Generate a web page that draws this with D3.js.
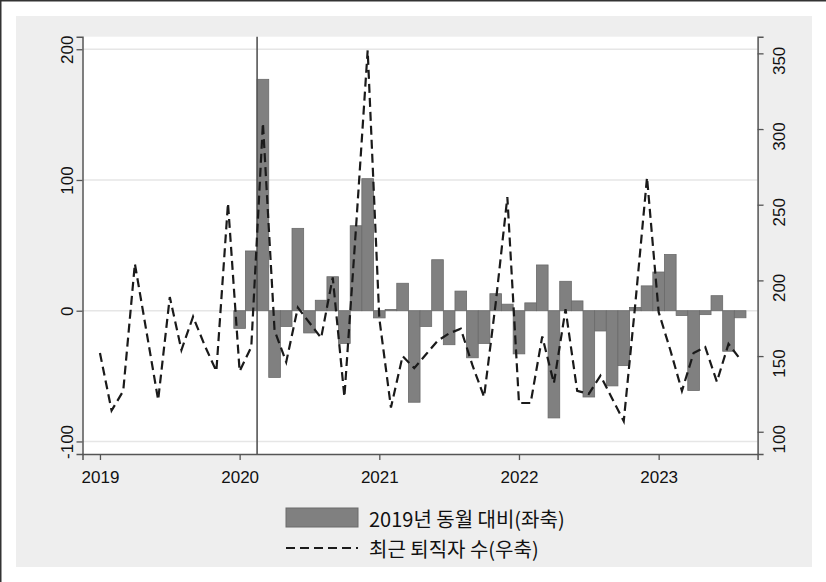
<!DOCTYPE html>
<html>
<head>
<meta charset="utf-8">
<script src="https://cdn.jsdelivr.net/npm/d3@7"></script>
<style>
  html, body { margin: 0; padding: 0; background: #fff; }
  svg { display: block; }
  text { font-family: "Liberation Sans", Arial, sans-serif; fill: #111; }
  .kr { font-family: "Noto Sans CJK KR", "Liberation Sans", sans-serif; }
</style>
</head>
<body>
<div id="chart"></div>
<script>
// month index: 0 = 2019-01
const yearTicks = [0, 12, 24, 36, 48];
const yearLabels = ["2019", "2020", "2021", "2022", "2023"];
const leftTicks = [-100, 0, 100, 200];
const rightTicks = [100, 150, 200, 250, 300, 350];
const shockMonth = 13.5;

// 2019년 동월 대비 (좌축), 2020-01 .. 2023-08
const barStart = 12;
const barValues = [
  -13.5, 45.7, 177, -51, -12, 63, -17, 8, 26, -25, 65, 101,
  -5.5, 1, 21, -70, -12, 39, -26, 15, -36, -25, 13, 5,
  -33, 6, 35, -82, 22.5, 7.5, -66, -15.5, -57.5, -42, 2.5, 19,
  29.6, 43, -3.7, -61, -3, 11.5, -31, -5.4
];

// 최근 퇴직자 수 (우축), 2019-01 .. 2023-08
const lineValues = [
  152, 114, 127, 211, 166, 121, 189, 154, 176, 157, 140, 251,
  140, 156, 304, 167, 146, 182, 172, 162, 202, 123, 235, 352,
  175, 116, 150, 142, 151, 160, 165, 168, 144, 123, 185, 255,
  119, 119, 163, 132, 181, 127, 125, 137, 122, 107, 185, 268,
  179, 154, 127, 152, 156, 133, 158, 148
];

const legendLabels = ["2019년 동월 대비(좌축)", "최근 퇴직자 수(우축)"];

const W = 826, H = 582;
const plot = { left: 82.5, right: 757.6, top: 36.7, bottom: 454 };

const svg = d3.select("#chart").append("svg").attr("width", W).attr("height", H);

// outer frame + graph region
svg.append("rect").attr("x", 16).attr("y", 16).attr("width", 796).attr("height", 551).attr("fill", "#eeeeee");
svg.append("line").attr("x1", 0).attr("x2", W).attr("y1", 0.75).attr("y2", 0.75).attr("stroke", "#333").attr("stroke-width", 1.5);
svg.append("line").attr("x1", 0.75).attr("x2", 0.75).attr("y1", 0).attr("y2", H).attr("stroke", "#333").attr("stroke-width", 1.5);

svg.append("rect")
  .attr("x", plot.left).attr("y", plot.top)
  .attr("width", plot.right - plot.left).attr("height", plot.bottom - plot.top)
  .attr("fill", "#fff");

const x = d3.scaleLinear().domain([-1.5, 56.5]).range([plot.left, plot.right]);
const yL = d3.scaleLinear().domain([-109.6, 209.6]).range([plot.bottom, plot.top]);
const yR = d3.scaleLinear().domain([85.3, 361]).range([plot.bottom, plot.top]);

// gridlines
svg.append("g").selectAll("line").data(leftTicks).join("line")
  .attr("x1", plot.left).attr("x2", plot.right)
  .attr("y1", (d) => yL(d)).attr("y2", (d) => yL(d))
  .attr("stroke", "#e6e6e6").attr("stroke-width", 1.5);

// bars
const bw = x(1) - x(0);
svg.append("g").selectAll("rect").data(barValues).join("rect")
  .attr("x", (d, i) => x(barStart + i) - bw / 2)
  .attr("width", bw)
  .attr("y", (d) => yL(Math.max(0, d)))
  .attr("height", (d) => Math.abs(yL(d) - yL(0)))
  .attr("fill", "#808080")
  .attr("stroke", "#6a6a6a")
  .attr("stroke-width", 0.8);

// shock line
svg.append("line")
  .attr("x1", x(shockMonth)).attr("x2", x(shockMonth))
  .attr("y1", plot.top).attr("y2", plot.bottom)
  .attr("stroke", "#555").attr("stroke-width", 1.6);

// dashed line
const line = d3.line().x((d, i) => x(i)).y((d) => yR(d));
svg.append("path").datum(lineValues)
  .attr("d", line)
  .attr("fill", "none")
  .attr("stroke", "#1a1a1a")
  .attr("stroke-width", 2.2)
  .attr("stroke-dasharray", "9,5");

// axes
const axisColor = "#555";
const plain = (d) => String(d);
const gL = svg.append("g").attr("transform", `translate(${plot.left},0)`)
  .call(d3.axisLeft(yL).tickValues(leftTicks).tickSize(6).tickFormat(plain));
const gR = svg.append("g").attr("transform", `translate(${plot.right},0)`)
  .call(d3.axisRight(yR).tickValues(rightTicks).tickSize(6).tickFormat(plain));
const gB = svg.append("g").attr("transform", `translate(0,${plot.bottom})`)
  .call(d3.axisBottom(x).tickValues(yearTicks).tickSize(6).tickFormat((d, i) => yearLabels[i]));

[gL, gR, gB].forEach((g) => {
  g.select(".domain").attr("stroke", axisColor).attr("stroke-width", 1.5);
  g.selectAll(".tick line").attr("stroke", axisColor).attr("stroke-width", 1.3);
  g.selectAll("text").attr("font-size", 17).attr("fill", "#111")
    .style("font-family", '"Liberation Sans", Arial, sans-serif');
});
gB.selectAll("text").attr("dy", "1.2em");

gL.selectAll(".tick text")
  .attr("x", null).attr("dy", null)
  .attr("text-anchor", "middle")
  .attr("transform", "translate(-10,0) rotate(-90)");
// right labels sit a little below their ticks in the original
gR.selectAll(".tick text")
  .attr("x", null).attr("dy", null)
  .attr("text-anchor", "middle")
  .attr("transform", "translate(27,7) rotate(-90)");

// legend
const lg = svg.append("g");
lg.append("rect").attr("x", 286).attr("y", 508).attr("width", 72).attr("height", 19)
  .attr("fill", "#808080").attr("stroke", "#6a6a6a");
lg.append("line").attr("x1", 286).attr("x2", 358).attr("y1", 548).attr("y2", 548)
  .attr("stroke", "#1a1a1a").attr("stroke-width", 2).attr("stroke-dasharray", "9,5");
lg.selectAll("text").data(legendLabels).join("text")
  .attr("class", "kr")
  .attr("x", 369)
  .attr("y", (d, i) => 518 + i * 30)
  .attr("dominant-baseline", "central")
  .attr("font-size", 20)
  .text((d) => d);
</script>
</body>
</html>
